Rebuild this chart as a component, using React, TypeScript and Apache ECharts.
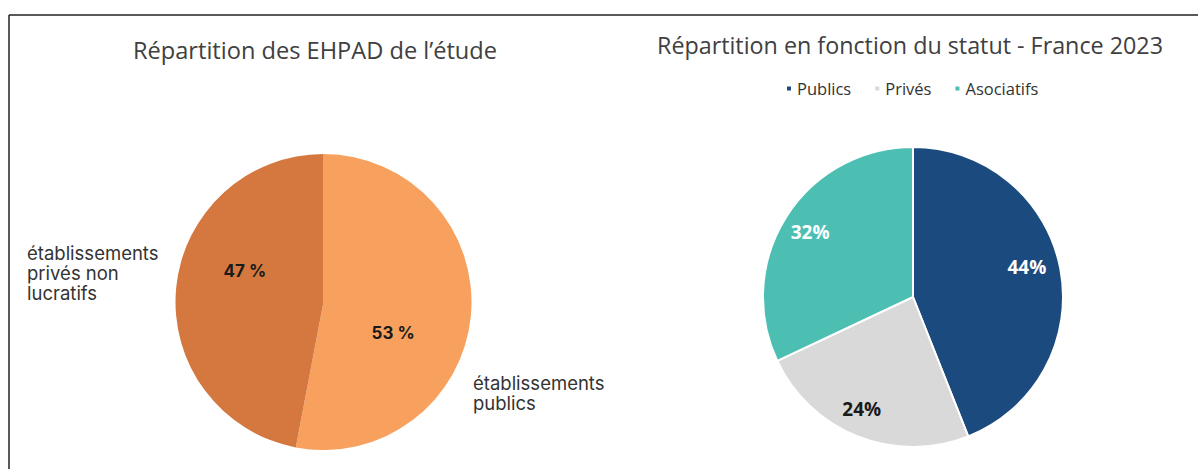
import React, { useEffect, useRef } from "react";
import * as echarts from "echarts";

// Left pie: EHPAD de l'étude
const studyNames = ["établissements publics", "établissements privés non lucratifs"];
const studyLabels = ["établissements\npublics", "établissements\nprivés non\nlucratifs"];
const studyValues = [53, 47];

// Right pie: France 2023
const franceNames = ["Publics", "Privés", "Asociatifs"];
const franceValues = [44, 24, 32];

const leftTitle = "Répartition des EHPAD de l’étude";
const rightTitle = "Répartition en fonction du statut - France 2023";

export default function App() {
  const ref = useRef<HTMLDivElement>(null);
  useEffect(() => {
    if (!ref.current) return;
    const chart = echarts.init(ref.current, null, { renderer: "svg" });
    const studyColors = ["#F8A15E", "#D4783F"];
    const studyOffsets = [[-7, 24], [-2, -24]];
    const franceColors = ["#1B4A7E", "#D9D9D9", "#4CBFB2"];
    const franceLabelColors = ["#ffffff", "#1a1a1a", "#ffffff"];
    const franceOffsets = [[-7, -7], [-6, -2], [1, 1]];
    const option = {
      animation: false,
      title: [
        {
          text: leftTitle,
          left: 128,
          top: 33,
          textStyle: { fontFamily: "Open Sans", fontSize: 23.6, fontWeight: "normal", color: "#404040" },
        },
        {
          text: rightTitle,
          left: 652,
          top: 28,
          textStyle: { fontFamily: "Open Sans", fontSize: 23.3, fontWeight: "normal", color: "#404040" },
        },
      ],
      legend: {
        data: franceNames,
        left: 780,
        top: 75,
        icon: "rect",
        itemWidth: 6,
        itemHeight: 6,
        itemGap: 22,
        textStyle: { fontFamily: "Open Sans", fontSize: 16.5, color: "#333" },
      },
      graphic: [
        { type: "line", shape: { x1: 9, y1: 15, x2: 1198, y2: 15 }, style: { stroke: "#222", lineWidth: 1.5 } },
        { type: "line", shape: { x1: 9, y1: 15, x2: 9, y2: 469 }, style: { stroke: "#222", lineWidth: 1.5 } },
        {
          type: "text",
          left: 473,
          top: 373,
          style: { text: studyLabels[0], font: "18.5px Inter", fill: "#333", lineHeight: 20 },
        },
        {
          type: "text",
          left: 27,
          top: 243,
          style: { text: studyLabels[1], font: "18.5px Inter", fill: "#333", lineHeight: 20 },
        },
      ],
      series: [
        {
          type: "pie",
          center: [323.5, 302],
          radius: 148,
          startAngle: 90,
          clockwise: true,
          silent: true,
          itemStyle: { borderWidth: 0 },
          label: {
            show: true,
            position: "inside",
            formatter: "{c} %",
            fontFamily: "Inter",
            fontWeight: "bold",
            fontSize: 17,
            color: "#1a1a1a",
          },
          labelLine: { show: false },
          data: studyNames.map((n, i) => ({
            name: n,
            value: studyValues[i],
            itemStyle: { color: studyColors[i] },
            label: { offset: studyOffsets[i] },
          })),
        },
        {
          name: "France",
          type: "pie",
          center: [913, 297],
          radius: 150,
          startAngle: 90,
          clockwise: true,
          silent: true,
          itemStyle: { borderColor: "#ffffff", borderWidth: 2 },
          label: { show: false },
          labelLine: { show: false },
          data: franceNames.map((n, i) => ({
            name: n,
            value: franceValues[i],
            itemStyle: { color: franceColors[i] },
          })),
        },
        {
          name: "FranceLabels",
          type: "pie",
          center: [913, 297],
          radius: [90, 150],
          startAngle: 90,
          clockwise: true,
          silent: true,
          itemStyle: { color: "rgba(0,0,0,0)", borderWidth: 0 },
          label: {
            show: true,
            position: "inside",
            formatter: "{c}%",
            fontFamily: "Open Sans",
            fontWeight: "bold",
            fontSize: 19,
          },
          labelLine: { show: false },
          data: franceNames.map((n, i) => ({
            name: n + " ",
            value: franceValues[i],
            label: { color: franceLabelColors[i], offset: franceOffsets[i] },
          })),
        },
      ],
    };
    chart.setOption(option as any);
    return () => chart.dispose();
  }, []);
  return (
    <div
      ref={ref}
      style={{ position: "fixed", left: 0, top: 0, width: 1198, height: 469, background: "#fff" }}
    />
  );
}
